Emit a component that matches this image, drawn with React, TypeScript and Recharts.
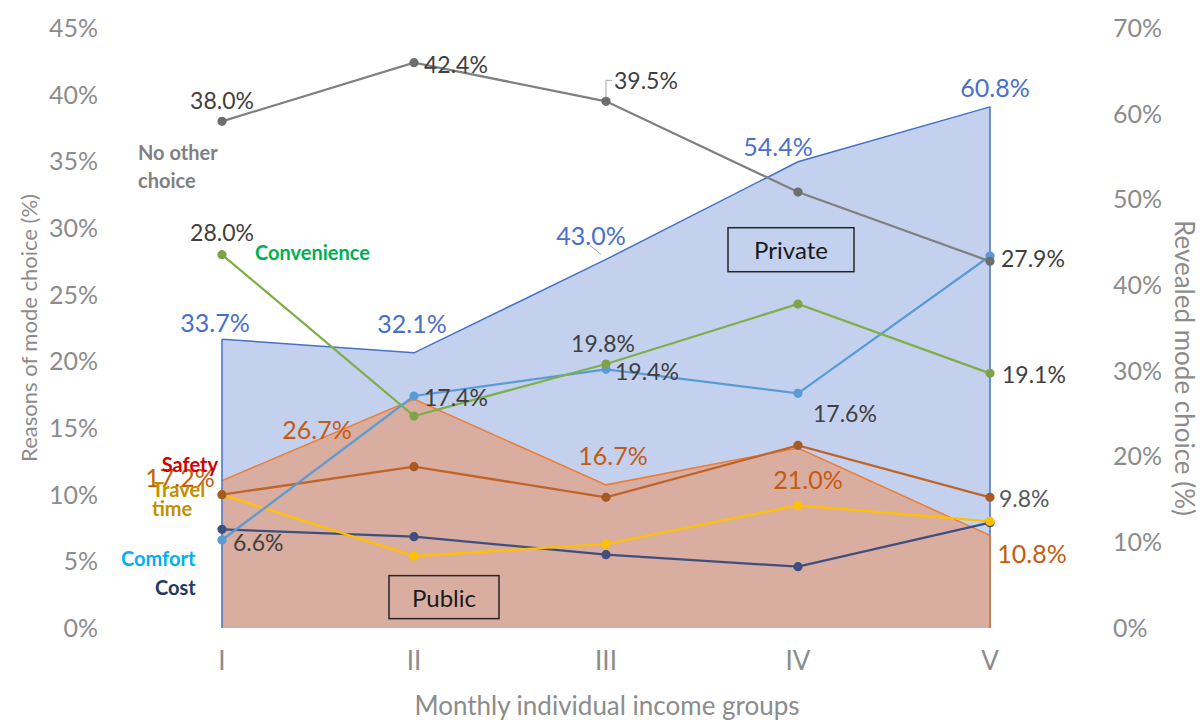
import React from 'react';
import { ComposedChart, Area, Line, XAxis, YAxis, LabelList, ReferenceLine } from 'recharts';

// ---- data ----
const groups = ['I', 'II', 'III', 'IV', 'V'];
const privateShare = [33.7, 32.1, 43.0, 54.4, 60.8];
const publicShare = [17.2, 26.7, 16.7, 21.0, 10.8];
const noOtherChoice = [38.0, 42.4, 39.5, 32.7, 27.5];
const convenience = [28.0, 15.9, 19.8, 24.3, 19.1];
const comfort = [6.6, 17.4, 19.4, 17.6, 27.9];
const safety = [10.0, 12.1, 9.8, 13.7, 9.8];
const travelTime = [10.0, 5.4, 6.3, 9.2, 8.0];
const cost = [7.4, 6.85, 5.5, 4.6, 7.9];
const leftTicks = [0, 5, 10, 15, 20, 25, 30, 35, 40, 45];
const rightTicks = [0, 10, 20, 30, 40, 50, 60, 70];

const rows = groups.map((g, i) => ({
  g,
  privateShare: privateShare[i],
  publicShare: publicShare[i],
  noOtherChoice: noOtherChoice[i],
  convenience: convenience[i],
  comfort: comfort[i],
  safety: safety[i],
  travelTime: travelTime[i],
  cost: cost[i],
}));

const FONT = 'Lato, "Open Sans", sans-serif';
const pct = (v: number) => `${v}%`;
const pct1 = (v: number) => `${Number(v).toFixed(1)}%`;

type Spec = { i: number; dx: number; dy: number; anchor?: 'start' | 'middle' | 'end'; leader?: 'elbow' | 'diag' };

const valueLabels = (specs: Spec[], color: string, size: number) => (props: any) => {
  const { x, y, index, value } = props;
  const s = specs.find((sp) => sp.i === index);
  if (!s || x == null || y == null) return null;
  return (
    <g>
      {s.leader === 'elbow' && (
        <polyline points={`${x},${y - 4} ${x},${y - 21} ${x + 6},${y - 21}`} fill="none" stroke="#a6a6a6" strokeWidth={1} />
      )}
      {s.leader === 'diag' && (
        <line x1={x - 16} y1={y - 14} x2={x - 5} y2={y - 5} stroke="#a6a6a6" strokeWidth={1} />
      )}
      <text
        x={x + s.dx}
        y={y + s.dy}
        textAnchor={s.anchor || 'middle'}
        dominantBaseline="central"
        fill={color}
        fontSize={size}
        fontFamily={FONT}
      >
        {pct1(value)}
      </text>
    </g>
  );
};

const nameLabel = (lines: string[], color: string, dx: number, dy: number, anchor: 'start' | 'end', lineGap = 28) => (props: any) => {
  const { x, y, index } = props;
  if (index !== 0 || x == null || y == null) return null;
  return (
    <text textAnchor={anchor} fill={color} fontSize={20} fontWeight={700} fontFamily={FONT}>
      {lines.map((t, k) => (
        <tspan key={k} x={x + dx} y={y + dy + k * lineGap} dominantBaseline="central">
          {t}
        </tspan>
      ))}
    </text>
  );
};

const boxLabel = (text: string, idx: number, dx: number, dy: number, w: number, h: number) => (props: any) => {
  const { x, y, index } = props;
  if (index !== idx || x == null || y == null) return null;
  const cx = x + dx;
  const cy = y + dy;
  return (
    <g>
      <rect x={cx - w / 2} y={cy - h / 2} width={w} height={h} fill="none" stroke="#262626" strokeWidth={1.5} />
      <text x={cx} y={cy} textAnchor="middle" dominantBaseline="central" fontSize={24} fill="#1a1a1a" fontFamily={FONT}>
        {text}
      </text>
    </g>
  );
};

const leftTitle = (props: any) => {
  const vb = props.viewBox;
  const cx = vb.x + 28;
  const cy = vb.y + vb.height / 2;
  return (
    <text x={cx} y={cy} transform={`rotate(-90, ${cx}, ${cy})`} textAnchor="middle" dominantBaseline="central" fill="#8c8c8c" fontSize={22} fontFamily={FONT}>
      Reasons of mode choice (%)
    </text>
  );
};

const rightTitle = (props: any) => {
  const vb = props.viewBox;
  const cx = vb.x + 75;
  const cy = vb.y + vb.height / 2 + 40;
  return (
    <text x={cx} y={cy} transform={`rotate(90, ${cx}, ${cy})`} textAnchor="middle" dominantBaseline="central" fill="#8c8c8c" fontSize={26} fontFamily={FONT}>
      Revealed mode choice (%)
    </text>
  );
};

const tickStyle = { fill: '#8c8c8c', fontSize: 25, fontFamily: FONT };

export default function App() {
  return (
    <div style={{ position: 'absolute', left: 0, top: 0, width: 1200, height: 720, background: '#ffffff', fontFamily: FONT }}>
      <ComposedChart width={1200} height={720} data={rows} margin={{ top: 28, right: 0, bottom: 0, left: 0 }}>
        <XAxis
          dataKey="g"
          height={92}
          padding={{ left: 118, right: 120 }}
          axisLine={false}
          tickLine={false}
          tickSize={0}
          tickMargin={24}
          tick={{ ...tickStyle, fontSize: 26 }}
          label={{ value: 'Monthly individual income groups', position: 'insideBottom', offset: 5, fill: '#8c8c8c', fontSize: 26, fontFamily: FONT }}
        />
        <YAxis
          yAxisId="l"
          width={104}
          domain={[0, 45]}
          ticks={leftTicks}
          tickFormatter={pct}
          axisLine={false}
          tickLine={false}
          tickSize={0}
          tickMargin={6}
          tick={tickStyle}
          label={{ content: leftTitle }}
        />
        <YAxis
          yAxisId="r"
          orientation="right"
          width={90}
          domain={[0, 70]}
          ticks={rightTicks}
          tickFormatter={pct}
          axisLine={false}
          tickLine={false}
          tickSize={0}
          tickMargin={3}
          tick={tickStyle}
          label={{ content: rightTitle }}
        />

        <Area
          yAxisId="r"
          dataKey="privateShare"
          type="linear"
          stroke="#4472c4"
          strokeWidth={1.5}
          fill="#c3d1ee"
          fillOpacity={1}
          isAnimationActive={false}
        >
          <LabelList
            dataKey="privateShare"
            content={valueLabels(
              [
                { i: 0, dx: -7, dy: -17 },
                { i: 1, dx: -2, dy: -30 },
                { i: 2, dx: -15, dy: -24, leader: 'diag' },
                { i: 3, dx: -20, dy: -16 },
                { i: 4, dx: 5, dy: -20 },
              ],
              '#4a6fcc',
              25
            )}
          />
          <LabelList dataKey="privateShare" content={boxLabel('Private', 3, -7, 88, 126, 44)} />
        </Area>
        <ReferenceLine yAxisId="r" segment={[{ x: 'V', y: 0 }, { x: 'V', y: privateShare[4] }]} stroke="#4472c4" strokeWidth={1.5} ifOverflow="visible" />
        <ReferenceLine yAxisId="r" segment={[{ x: 'I', y: 0 }, { x: 'I', y: privateShare[0] }]} stroke="#4472c4" strokeWidth={1.5} ifOverflow="visible" />

        <Area
          yAxisId="r"
          dataKey="publicShare"
          type="linear"
          stroke="#ed7d31"
          strokeWidth={1.5}
          fill="#d9ad9f"
          fillOpacity={1}
          isAnimationActive={false}
        >
          <LabelList
            dataKey="publicShare"
            content={valueLabels(
              [
                { i: 0, dx: -42, dy: -4 },
                { i: 1, dx: -97, dy: 30 },
                { i: 2, dx: 7, dy: -30 },
                { i: 3, dx: 10, dy: 31 },
                { i: 4, dx: 42, dy: 18 },
              ],
              '#c55a11',
              25
            )}
          />
          <LabelList dataKey="publicShare" content={boxLabel('Public', 1, 30, 198, 110, 43)} />
        </Area>
        <ReferenceLine yAxisId="r" segment={[{ x: 'V', y: 0 }, { x: 'V', y: publicShare[4] }]} stroke="#ed7d31" strokeWidth={1.5} ifOverflow="visible" />

        <Line yAxisId="l" dataKey="cost" type="linear" stroke="#3f4f7f" strokeWidth={2.25} dot={{ r: 3.5, fill: '#3f4f7f', stroke: '#3f4f7f' }} isAnimationActive={false}>
          <LabelList dataKey="cost" content={nameLabel(['Cost'], '#1f3864', -67, 58, 'start')} />
        </Line>
        <Line yAxisId="l" dataKey="travelTime" type="linear" stroke="#ffc000" strokeWidth={2.25} dot={{ r: 3.5, fill: '#ffc000', stroke: '#ffc000' }} isAnimationActive={false}>
          <LabelList dataKey="travelTime" content={nameLabel(['Travel', 'time'], '#bf9000', -70, -6, 'start', 19)} />
        </Line>
        <Line yAxisId="l" dataKey="safety" type="linear" stroke="#c0642a" strokeWidth={2.25} dot={{ r: 3.5, fill: '#a85a20', stroke: '#a85a20' }} isAnimationActive={false}>
          <LabelList dataKey="safety" content={valueLabels([{ i: 4, dx: 9, dy: 1, anchor: 'start' }], '#595959', 23)} />
          <LabelList dataKey="safety" content={nameLabel(['Safety'], '#d00000', -4, -31, 'end')} />
        </Line>
        <Line yAxisId="l" dataKey="comfort" type="linear" stroke="#5b9bd5" strokeWidth={2.25} dot={{ r: 3.5, fill: '#5b9bd5', stroke: '#5b9bd5' }} isAnimationActive={false}>
          <LabelList
            dataKey="comfort"
            content={valueLabels(
              [
                { i: 0, dx: 11, dy: 2, anchor: 'start' },
                { i: 1, dx: 10, dy: 1, anchor: 'start' },
                { i: 2, dx: 9, dy: 2, anchor: 'start' },
                { i: 3, dx: 15, dy: 20, anchor: 'start' },
                { i: 4, dx: 11, dy: 2, anchor: 'start' },
              ],
              '#404040',
              23
            )}
          />
          <LabelList dataKey="comfort" content={nameLabel(['Comfort'], '#00b0f0', -101, 18, 'start')} />
        </Line>
        <Line yAxisId="l" dataKey="convenience" type="linear" stroke="#7fae4a" strokeWidth={2.25} dot={{ r: 3.5, fill: '#7fa24a', stroke: '#7fa24a' }} isAnimationActive={false}>
          <LabelList
            dataKey="convenience"
            content={valueLabels(
              [
                { i: 0, dx: 0, dy: -23 },
                { i: 2, dx: -3, dy: -21 },
                { i: 4, dx: 12, dy: 1, anchor: 'start' },
              ],
              '#404040',
              23
            )}
          />
          <LabelList dataKey="convenience" content={nameLabel(['Convenience'], '#00b050', 33, -3, 'start')} />
        </Line>
        <Line yAxisId="l" dataKey="noOtherChoice" type="linear" stroke="#808080" strokeWidth={2.25} dot={{ r: 3.5, fill: '#6e6e6e', stroke: '#6e6e6e' }} isAnimationActive={false}>
          <LabelList
            dataKey="noOtherChoice"
            content={valueLabels(
              [
                { i: 0, dx: 0, dy: -21 },
                { i: 1, dx: 10, dy: 1, anchor: 'start' },
                { i: 2, dx: 8, dy: -21, anchor: 'start', leader: 'elbow' },
              ],
              '#404040',
              23
            )}
          />
          <LabelList dataKey="noOtherChoice" content={nameLabel(['No other', 'choice'], '#808080', -84, 31, 'start')} />
        </Line>
      </ComposedChart>
    </div>
  );
}
